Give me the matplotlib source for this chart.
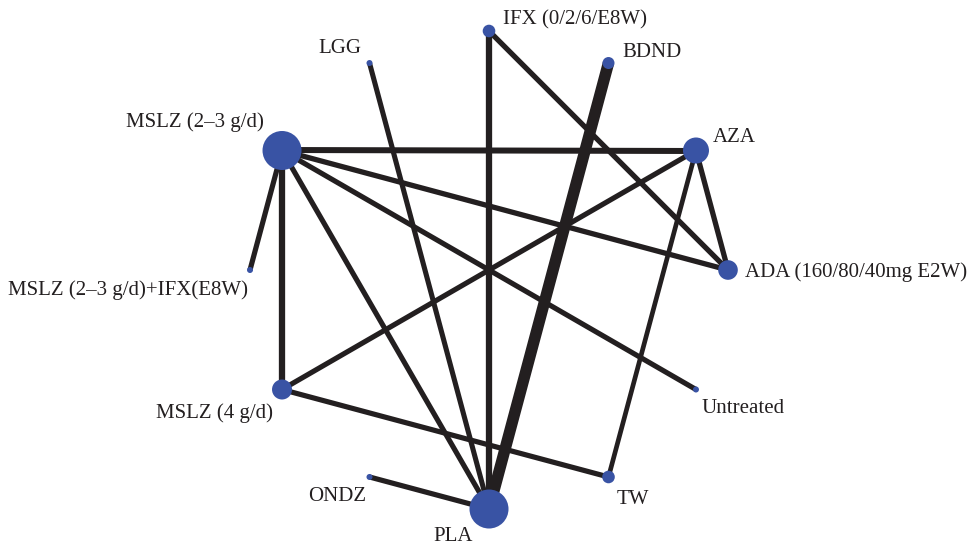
import numpy as np
import matplotlib
matplotlib.use("Agg")
import matplotlib.pyplot as plt
from matplotlib.patches import Circle

# Treatments in circular order (clockwise from top)
treatments = ["IFX (0/2/6/E8W)", "BDND", "AZA", "ADA (160/80/40mg E2W)", "Untreated",
              "TW", "PLA", "ONDZ", "MSLZ (4 g/d)", "MSLZ (2–3 g/d)+IFX(E8W)",
              "MSLZ (2–3 g/d)", "LGG"]
# node size (relative sample size, drawn as radius)
node_size = [6.3, 6.0, 13.0, 9.8, 3.0, 6.3, 19.5, 3.0, 10.0, 3.0, 19.5, 3.0]

# Comparisons and their weights (line thickness)
edge_from = ["IFX (0/2/6/E8W)", "IFX (0/2/6/E8W)", "BDND", "LGG",
             "MSLZ (2–3 g/d)", "MSLZ (2–3 g/d)", "MSLZ (2–3 g/d)", "MSLZ (2–3 g/d)",
             "MSLZ (2–3 g/d)", "MSLZ (2–3 g/d)", "AZA", "AZA", "AZA",
             "MSLZ (4 g/d)", "ONDZ"]
edge_to = ["PLA", "ADA (160/80/40mg E2W)", "PLA", "PLA",
           "AZA", "ADA (160/80/40mg E2W)", "MSLZ (2–3 g/d)+IFX(E8W)", "MSLZ (4 g/d)",
           "PLA", "Untreated", "MSLZ (4 g/d)", "ADA (160/80/40mg E2W)", "TW",
           "TW", "PLA"]
edge_weight = [6.3, 5.3, 11.5, 5.1, 6.0, 5.3, 5.2, 6.3, 5.2, 5.2, 5.2, 5.3, 4.7, 5.2, 5.2]

# ---- layout / style ----
W, H = 969, 548
fig = plt.figure(figsize=(W / 100, H / 100), dpi=100)
ax = fig.add_axes([0, 0, 1, 1])
ax.set_xlim(0, W)
ax.set_ylim(H, 0)
ax.set_aspect("equal")
ax.axis("off")

cx, cy, R = 489, 270, 239
n = len(treatments)
angles = np.deg2rad(90 - 360 / n * np.arange(n))
pos = {t: (cx + R * np.cos(a), cy - R * np.sin(a)) for t, a in zip(treatments, angles)}

line_color = "#231f20"
node_color = "#3953a4"
px2pt = 0.72

for a, b, w in zip(edge_from, edge_to, edge_weight):
    (x1, y1), (x2, y2) = pos[a], pos[b]
    ax.plot([x1, x2], [y1, y2], color=line_color, lw=w * px2pt,
            solid_capstyle="butt", zorder=1)

for t, r in zip(treatments, node_size):
    ax.add_patch(Circle(pos[t], r, facecolor=node_color, edgecolor="none", zorder=2))

# label offsets (dx, dy to text baseline, horizontal alignment)
label_off = {
    "IFX (0/2/6/E8W)": (14, -7, "left"),
    "BDND": (14, -5.7, "left"),
    "AZA": (17, -8, "left"),
    "ADA (160/80/40mg E2W)": (17, 7.3, "left"),
    "Untreated": (5.7, 23.8, "left"),
    "TW": (8, 27, "left"),
    "PLA": (-16.3, 32, "right"),
    "ONDZ": (-3, 24.3, "right"),
    "MSLZ (4 g/d)": (-8.7, 28.8, "right"),
    "MSLZ (2–3 g/d)+IFX(E8W)": (-1.7, 25, "right"),
    "MSLZ (2–3 g/d)": (-18, -23, "right"),
    "LGG": (-8.5, -9.7, "right"),
}
for t in treatments:
    dx, dy, ha = label_off[t]
    x, y = pos[t]
    ax.text(x + dx, y + dy, t, ha=ha, va="baseline", fontsize=15,
            family=["Liberation Serif", "DejaVu Serif"], color="#231f20")

fig.savefig("out.png", dpi=100)
